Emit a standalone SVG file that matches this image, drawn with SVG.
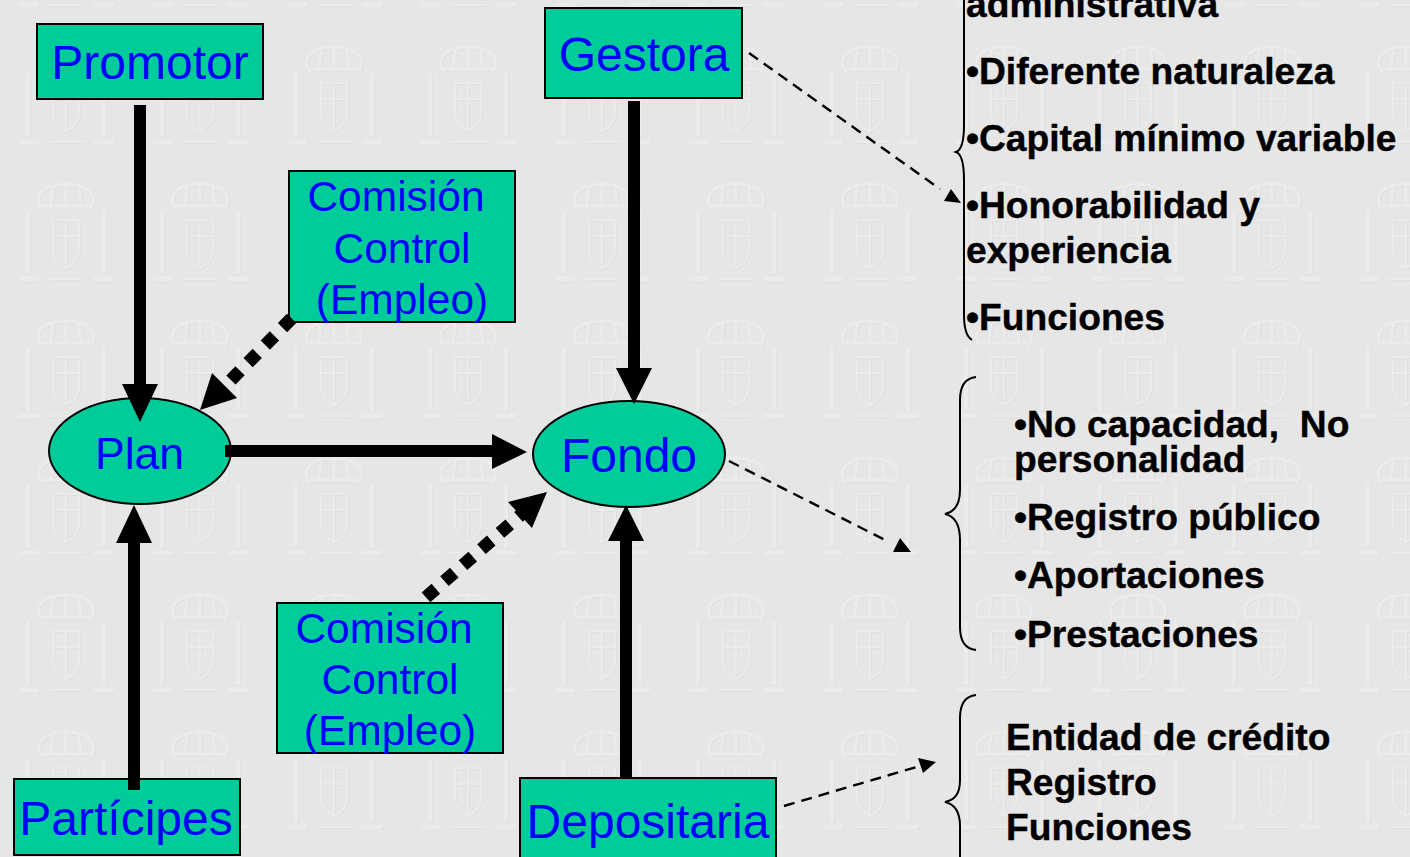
<svg xmlns="http://www.w3.org/2000/svg" width="1410" height="857" viewBox="0 0 1410 857">
<defs>
<filter id="soft" x="-10%" y="-10%" width="120%" height="120%"><feGaussianBlur stdDeviation="0.7"/></filter>
<g id="crest" fill="none" stroke-linecap="round" stroke-linejoin="round" stroke-dasharray="7 2">
<path stroke-width="3" d="M22 26C12 8 34 2 47 2C60 2 82 8 72 26M24 24H70M34 6L32 24M47 0V24M60 6L62 24"/>
<path stroke-width="4" d="M9 30V90M85 30V90"/>
<path stroke-width="5" d="M2 97H18M77 97H93"/>
<path stroke-width="2" d="M34 38H60V68C60 78 52 84 47 86C42 84 34 78 34 68ZM34 54H60M47 38V86M30 97H64"/>
</g>
<pattern id="wall" patternUnits="userSpaceOnUse" x="19" y="45" width="134" height="137">
<rect width="134" height="137" fill="#e6e6e6"/>
<g filter="url(#soft)">
<use href="#crest" x="1" y="1" stroke="#e0e0e0"/>
<use href="#crest" stroke="#ebebeb"/>
</g>
</pattern>
</defs>
<style>
.n{fill:#00cc99;stroke:#000;stroke-width:2}
.l{font:48px "Liberation Sans",Arial,sans-serif;fill:#0000ff;text-anchor:middle}
.c{font-size:42.5px}
.t{font:bold 37.2px "Liberation Sans",Arial,sans-serif;fill:#000;stroke:#000;stroke-width:.4;white-space:pre}
.s{fill:none;stroke:#000;stroke-width:12}
.d{fill:none;stroke:#000;stroke-width:13;stroke-dasharray:13 11.5}
.h{fill:none;stroke:#000;stroke-width:2.4;stroke-dasharray:11 7}
.b{fill:none;stroke:#000;stroke-width:2}
</style>
<rect width="1410" height="857" fill="url(#wall)"/>
<g id="promotor"><rect class="n" x="37" y="24" width="226" height="75"/><text class="l" x="150" y="79">Promotor</text></g>
<g id="gestora"><rect class="n" x="545" y="8" width="197" height="90"/><text class="l" x="644" y="71">Gestora</text></g>
<g id="comision-1"><rect class="n" x="289" y="171" width="226" height="151"/><text class="l c" x="396" y="211">Comisión</text><text class="l c" x="402" y="263">Control</text><text class="l c" x="402" y="314">(Empleo)</text></g>
<g id="plan"><ellipse class="n" cx="140" cy="451" rx="91" ry="53"/><text class="l" x="139.500" y="469" style="font-size:44.5px">Plan</text></g>
<g id="fondo"><ellipse class="n" cx="629" cy="454" rx="96" ry="53"/><text class="l" x="629" y="472">Fondo</text></g>
<g id="comision-2"><rect class="n" x="277" y="603" width="226" height="150"/><text class="l c" x="384" y="643">Comisión</text><text class="l c" x="390" y="694">Control</text><text class="l c" x="390" y="745">(Empleo)</text></g>
<g id="participes"><rect class="n" x="14" y="779" width="226" height="76"/><text class="l" x="126" y="835">Partícipes</text></g>
<g id="depositaria"><rect class="n" x="520" y="778" width="256" height="80"/><text class="l" x="648" y="838">Depositaria</text></g>
<g id="connectors">
<path class="s" d="M140 105V388"/><path d="M122 384L140 422L158 384Z"/>
<path class="s" d="M634 101V372"/><path d="M616 368L634 404L652 368Z"/>
<path class="s" d="M225 451H495"/><path d="M492 434L527 452L492 469Z"/>
<path class="s" d="M134 790V540"/><path d="M116 543L134 505L152 543Z"/>
<path class="s" d="M626 778V538"/><path d="M608 541L626 505L644 541Z"/>
<path class="d" d="M291.600 318.400L230 381"/><path d="M200 410L212 373L237 398Z"/>
<path class="d" d="M426 597.300L524 512"/><path d="M547 492L508 502L532 528Z"/>
<path class="h" d="M749 53L940 189"/><path d="M961 203L944 201L951 189Z"/>
<path class="h" d="M729 461L889 542"/><path d="M900 538L893 552L911 552Z"/>
<path class="h" d="M784 806L920 766"/><path d="M936 762L918 758L923 773Z"/>
</g>
<g id="braces">
<path class="b" d="M964 0V125C964 140 962 150 956 152C962 154 964 165 964 180V315C964 330 967 337 972 340"/>
<path class="b" d="M976 377C966 378 960 385 960 400V490C960 505 954 512 945 514C954 516 960 524 960 540V627C960 642 966 649 976 650"/>
<path class="b" d="M976 695C966 696 960 703 960 718V780C960 795 954 800 945 802C954 804 960 810 960 826V857"/>
</g>
<g id="text-gestora">
<text class="t" x="966" y="17">administrativa</text>
<text class="t" x="966" y="84">•Diferente naturaleza</text>
<text class="t" x="966" y="151">•Capital mínimo variable</text>
<text class="t" x="966" y="218">•Honorabilidad y</text>
<text class="t" x="966" y="263">experiencia</text>
<text class="t" x="966" y="330">•Funciones</text>
</g>
<g id="text-fondo">
<text class="t" x="1014" y="437">•No capacidad,  No</text>
<text class="t" x="1014" y="472">personalidad</text>
<text class="t" x="1014" y="530">•Registro público</text>
<text class="t" x="1014" y="588">•Aportaciones</text>
<text class="t" x="1014" y="647">•Prestaciones</text>
</g>
<g id="text-depositaria">
<text class="t" x="1006" y="750">Entidad de crédito</text>
<text class="t" x="1006" y="795">Registro</text>
<text class="t" x="1006" y="840">Funciones</text>
</g>
</svg>
